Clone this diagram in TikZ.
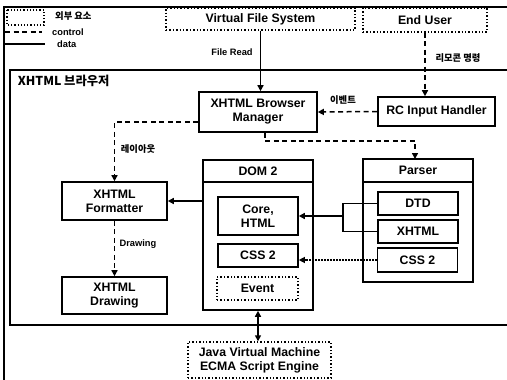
\documentclass[tikz,border=0pt]{standalone}
\usepackage{fontspec}
\setmainfont{Liberation Sans}
\newfontfamily\kr{Noto Sans CJK KR}
\usetikzlibrary{arrows.meta}

\newcommand{\boxfont}{\bfseries\fontsize{12.3}{14}\selectfont}
\newcommand{\tagfont}{\bfseries\fontsize{9.3}{11}\selectfont}

\tikzset{
	box/.style={draw, line width=1.6pt, font=\boxfont, align=center, inner sep=0pt},
	extbox/.style={draw, dotted, line width=1.4pt, font=\boxfont, align=center, inner sep=0pt},
	ctrl/.style={line width=1.5pt, dash pattern=on 5pt off 3.5pt, -{Triangle[length=6pt,width=6pt]}},
	data/.style={line width=1.5pt, -{Triangle[length=6pt,width=6pt]}},
	tag/.style={font=\tagfont, inner sep=0pt},
	krtag/.style={font=\kr\tagfont, inner sep=0pt}
}

\begin{document}
\begin{tikzpicture}[x=1pt, y=-1pt]
	\useasboundingbox (0,0) rectangle (507,380);
	% page frame
	\draw[line width=1.2pt] (4,380) -- (4,7) -- (507,7);
	% legend
	\draw[dotted, line width=1.2pt] (7,10) rectangle (44,25);
	\node[krtag, anchor=west] (lgext) at (55,16) {외부 요소};
	\draw[line width=1.5pt, dash pattern=on 5pt off 3.5pt] (5,32) -- (42,32);
	\node[tag, anchor=west] (lgctrl) at (52,32) {control};
	\draw[line width=1.2pt] (5,44) -- (45,44);
	\node[tag, anchor=west] (lgdata) at (57,44) {data};
	% outside
	\node[extbox, minimum width=189, minimum height=22] (vfs) at (260.5,19) {Virtual File System};
	\node[extbox, minimum width=124, minimum height=24] (user) at (425,20) {End User};
	\node[extbox, minimum width=143, minimum height=36] (jvm) at (259.5,360) {Java Virtual Machine\\ECMA Script Engine};
	% browser frame
	\draw[line width=1.8pt] (507,70) -- (10,70) -- (10,325) -- (507,325);
	\node[box, draw=none, anchor=west, font=\kr\boxfont] (brw) at (17,81) {XHTML 브라우저};
	% inside
	\node[box, minimum width=118, minimum height=40] (mgr) at (258,112) {XHTML Browser\\Manager};
	\node[box, minimum width=117, minimum height=29] (rc) at (436.5,111.5) {RC Input Handler};
	\node[box, minimum width=105, minimum height=38] (fmt) at (114.5,201) {XHTML\\Formatter};
	\node[box, minimum width=105, minimum height=37] (drw) at (114.5,295.5) {XHTML\\Drawing};
	% DOM 2
	\node[box, minimum width=110, minimum height=150] (dom) at (258,235) {};
	\draw[line width=1.6pt] (dom.west |- 0,182) -- (dom.east |- 0,182);
	\node[box, draw=none] (domt) at (258,171) {DOM 2};
	\node[box, minimum width=80, minimum height=38] (core) at (258,216) {Core,\\HTML};
	\node[box, minimum width=80, minimum height=23] (dcss) at (258,255.5) {CSS 2};
	\node[extbox, minimum width=81, minimum height=23] (event) at (257.5,288.5) {Event};
	% Parser
	\node[box, minimum width=110, minimum height=123] (parser) at (418,220.5) {};
	\draw[line width=1.6pt] (parser.west |- 0,182) -- (parser.east |- 0,182);
	\node[box, draw=none] (parsert) at (418,170.5) {Parser};
	\node[box, minimum width=80, minimum height=23] (dtd) at (418,203.5) {DTD};
	\node[box, minimum width=80, minimum height=23] (xhtml) at (418,231.5) {XHTML};
	\node[box, minimum width=80, minimum height=24] (pcss) at (417.5,260) {CSS 2};
	% connectors
	\draw[data] (vfs.south) -- (vfs.south |- mgr.north);
	\node[tag] (lread) at (232,52) {File Read};
	\draw[ctrl] (user.south) -- (user.south |- rc.north);
	\node[krtag] (lcmd) at (458,58) {리모콘 명령};
	\draw[ctrl] (rc.west) -- (mgr.east);
	\node[krtag] (levt) at (343,100) {이벤트};
	\draw[ctrl] ([xshift=7pt]mgr.south) |- (415,141) -- (415,159);
	\draw[ctrl] ([yshift=-10pt]mgr.west) -| (fmt.north);
	\node[krtag] (llay) at (138,149) {레이아웃};
	\draw[data] (fmt.east -| dom.west) -- (fmt.east);
	\draw[ctrl] (fmt.south) -- (drw.north);
	\node[tag] (ldraw) at (138,244) {Drawing};
	\coordinate (brk) at (343,216);
	\draw[line width=1.5pt] (dtd.west) -| (brk) |- (xhtml.west);
	\draw[data] (brk) -- (core.east);
	\draw[data, dash pattern=on 2pt off 1pt, line width=1.2pt] (pcss.west) -- (pcss.west -| dcss.east);
	\draw[line width=1.5pt, {Triangle[length=6pt,width=6pt]}-{Triangle[length=6pt,width=6pt]}] (dom.south) -- (dom.south |- jvm.north);
\end{tikzpicture}
\end{document}
